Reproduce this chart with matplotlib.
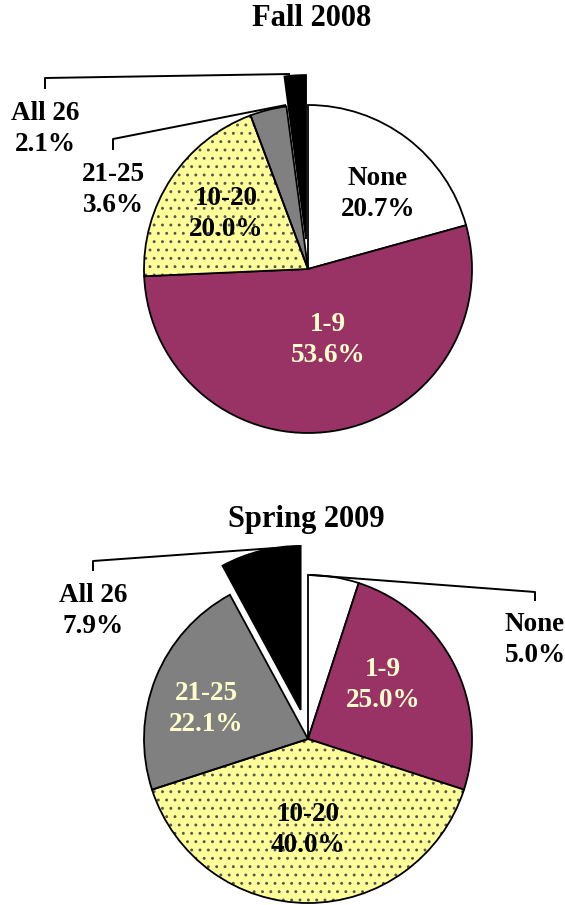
import matplotlib
matplotlib.use("Agg")
import matplotlib.pyplot as plt
from matplotlib.patches import Wedge

# ---- data ----
categories = ["None", "1-9", "10-20", "21-25", "All 26"]
fall_2008 = [20.7, 53.6, 20.0, 3.6, 2.1]
spring_2009 = [5.0, 25.0, 40.0, 22.1, 7.9]
titles = ["Fall 2008", "Spring 2009"]

colors = ["#FFFFFF", "#993366", "#FFFF99", "#808080", "#000000"]
hatches = [None, None, "..", None, None]
explode_px = [0, 0, 0, 0, 30]   # pie explode is in data units (= pixels here)

W, H = 565, 905
FONT = "Liberation Serif"
CREAM = "#FFFFCC"

plt.rcParams["hatch.linewidth"] = 0.9

def Y(py):
    # pixel row -> data y (axes spans the figure 1:1)
    return H - py

fig = plt.figure(figsize=(W / 100, H / 100), dpi=100)
ax = fig.add_axes([0, 0, 1, 1])

def draw_pie(values, cx, cy, r):
    wedges, _ = ax.pie(values, colors=colors, explode=explode_px, startangle=90,
                       counterclock=False, center=(cx, Y(cy)), radius=r,
                       wedgeprops=dict(edgecolor="black", linewidth=1.3))
    for w, h in zip(wedges, hatches):
        if h:
            # grey dots, then a black outline on top
            w.set_hatch(h)
            w.set_edgecolor("#555555")
            w.set_linewidth(0)
            ax.add_patch(Wedge(w.center, w.r, w.theta1, w.theta2, fill=False,
                               edgecolor="black", linewidth=1.3))
    return wedges

draw_pie(fall_2008, 308, 269, 164)
draw_pie(spring_2009, 308, 739, 164)

def label(txt, x, y, color="black"):
    ax.text(x, Y(y), txt, ha="center", va="center", fontsize=19.5,
            fontfamily=FONT, fontweight="bold", color=color, linespacing=1.3)

def pct(v):
    return "%.1f%%" % v

# fall labels
fall_pos = [(378, 194, "black"), (328, 340, CREAM), (226, 214, "black"),
            (113, 190, "black"), (45, 129, "black")]
for c, v, (x, y, col) in zip(categories, fall_2008, fall_pos):
    label(c + "\n" + pct(v), x, y, col)

# spring labels
spring_pos = [(535, 640, "black"), (383, 685, CREAM), (308, 830, "black"),
              (206, 709, CREAM), (93, 611, "black")]
for c, v, (x, y, col) in zip(categories, spring_2009, spring_pos):
    label(c + "\n" + pct(v), x, y, col)

# leader lines
def leader(pts):
    xs = [p[0] for p in pts]
    ys = [Y(p[1]) for p in pts]
    ax.plot(xs, ys, color="black", linewidth=1.4, solid_capstyle="butt")

leader([(45, 89), (45, 78), (290, 74)])
leader([(113, 150), (113, 139), (286, 105)])
leader([(93, 571), (93, 561), (275, 548)])
leader([(310, 575), (535, 592), (535, 601)])

# titles
ax.text(312, Y(19), titles[0], ha="center", va="center", fontsize=22,
        fontfamily=FONT, fontweight="bold")
ax.text(306, Y(520), titles[1], ha="center", va="center", fontsize=22,
        fontfamily=FONT, fontweight="bold")

ax.set_xlim(0, W)
ax.set_ylim(0, H)
ax.set_aspect("auto")
ax.axis("off")

fig.savefig("out.png", dpi=100)
